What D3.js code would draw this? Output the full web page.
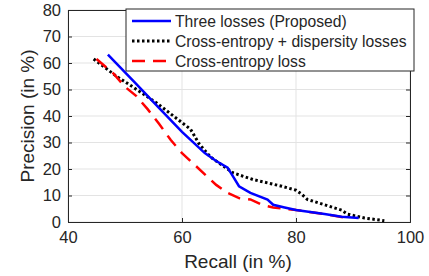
<!DOCTYPE html>
<html>
<head>
<meta charset="utf-8">
<script src="https://cdn.jsdelivr.net/npm/d3@7"></script>
<style>
  body { margin: 0; background: #fff; }
  text { font-family: "Liberation Sans", Arial, sans-serif; fill: #262626; }
</style>
</head>
<body>
<script>
// data (recall %, precision %)
var threeRecall = [47, 52, 56, 60, 64, 66, 68, 69, 70, 72, 75, 76, 78, 80, 85, 88, 91];
var threePrec   = [63.2, 52, 43, 34, 26, 23, 20.5, 17, 13.5, 11, 8.5, 6.5, 5.5, 4.5, 3, 2, 1.5];
var dispRecall = [44.5, 48.5, 51, 55.5, 61.5, 63, 65, 69, 72.5, 77.5, 80, 81, 82, 85, 88, 89, 92, 95.5];
var dispPrec   = [61.5, 55, 51.5, 45, 35, 29.5, 24.5, 18.5, 16, 13.5, 12, 10.5, 8.5, 6.5, 4.5, 3, 1.5, 0.5];
var ceRecall = [45, 48, 50, 52, 54, 56, 58, 60, 62, 64, 66, 68, 70, 72, 74, 76, 80, 85, 89];
var cePrec   = [61.5, 56, 51, 47.5, 42.5, 37, 31, 26, 22, 18, 14, 11, 9, 8.5, 6.5, 5.5, 4.5, 3, 1.5];
var seriesNames = ['Three losses (Proposed)', 'Cross-entropy + dispersity losses', 'Cross-entropy loss'];
var xTicks = [40, 60, 80, 100];
var yTicks = [0, 10, 20, 30, 40, 50, 60, 70, 80];

var w = 429, h = 276;
var m = {left: 68, right: 19, top: 10, bottom: 54};
var iw = w - m.left - m.right, ih = h - m.top - m.bottom;

var svg = d3.select('body').append('svg')
    .attr('width', w)
    .attr('height', h);

var x = d3.scaleLinear().domain([40, 100]).range([0, iw]);
var y = d3.scaleLinear().domain([0, 80]).range([ih, 0]);

var g = svg.append('g')
    .attr('transform', 'translate(' + m.left + ',' + m.top + ')');

// grid
g.selectAll('.gx').data(xTicks).enter().append('line')
    .attr('x1', d => x(d)).attr('x2', d => x(d))
    .attr('y1', 0).attr('y2', ih)
    .attr('stroke', '#e3e3e3').attr('stroke-width', 1);
g.selectAll('.gy').data(yTicks).enter().append('line')
    .attr('y1', d => y(d)).attr('y2', d => y(d))
    .attr('x1', 0).attr('x2', iw)
    .attr('stroke', '#e3e3e3').attr('stroke-width', 1);

// axes
var xAxis = d3.axisBottom(x).tickValues(xTicks).tickSize(-4).tickPadding(9);
var yAxis = d3.axisLeft(y).tickValues(yTicks).tickSize(-4).tickPadding(7);
var gx = g.append('g').attr('transform', 'translate(0,' + ih + ')').call(xAxis);
var gy = g.append('g').call(yAxis);
[gx, gy].forEach(function(a) {
    a.select('.domain').attr('stroke', '#262626');
    a.selectAll('.tick line').attr('stroke', '#262626');
    a.selectAll('.tick text').style('font-size', '16.5px').attr('fill', '#262626');
});
// top and right box edges with inward ticks
var gr = g.append('g').attr('transform', 'translate(' + iw + ',0)')
    .call(d3.axisRight(y).tickValues(yTicks).tickSize(-4).tickFormat(''));
var gt = g.append('g')
    .call(d3.axisTop(x).tickValues(xTicks).tickSize(-4).tickFormat(''));
[gr, gt].forEach(function(a) {
    a.select('.domain').attr('stroke', '#262626');
    a.selectAll('.tick line').attr('stroke', '#262626');
});

// axis labels
svg.append('text')
    .attr('x', m.left + iw / 2 - 1).attr('y', 268)
    .attr('text-anchor', 'middle')
    .style('font-size', '19px')
    .text('Recall (in %)');
svg.append('text')
    .attr('transform', 'translate(34,' + (m.top + ih / 2) + ') rotate(-90)')
    .attr('text-anchor', 'middle')
    .style('font-size', '19px')
    .text('Precision (in %)');

// curves
var line = d3.line().x(d => x(d[0])).y(d => y(d[1]));
var series = [
    {pts: d3.zip(threeRecall, threePrec), color: '#0000ff', dash: null, width: 2.5},
    {pts: d3.zip(dispRecall, dispPrec), color: '#000000', dash: '2.5,2.5', width: 3},
    {pts: d3.zip(ceRecall, cePrec), color: '#ff0000', dash: '13,8', width: 2.5}
];
// blue drawn last so it sits on top
[series[1], series[2], series[0]].forEach(function(s) {
    g.append('path')
        .attr('d', line(s.pts))
        .attr('fill', 'none')
        .attr('stroke', s.color)
        .attr('stroke-width', s.width)
        .attr('stroke-dasharray', s.dash);
});

// legend
var lg = svg.append('g').attr('transform', 'translate(126,9)');
lg.append('rect')
    .attr('width', 288).attr('height', 62)
    .attr('fill', '#fff').attr('stroke', '#262626').attr('stroke-width', 1);
series.forEach(function(s, i) {
    var yy = 12 + i * 20;
    lg.append('line')
        .attr('x1', 6).attr('x2', 45)
        .attr('y1', yy).attr('y2', yy)
        .attr('stroke', s.color)
        .attr('stroke-width', s.width)
        .attr('stroke-dasharray', s.dash);
    lg.append('text')
        .attr('x', 49).attr('y', yy + 5.5)
        .style('font-size', '15.7px')
        .text(seriesNames[i]);
});
</script>
</body>
</html>
